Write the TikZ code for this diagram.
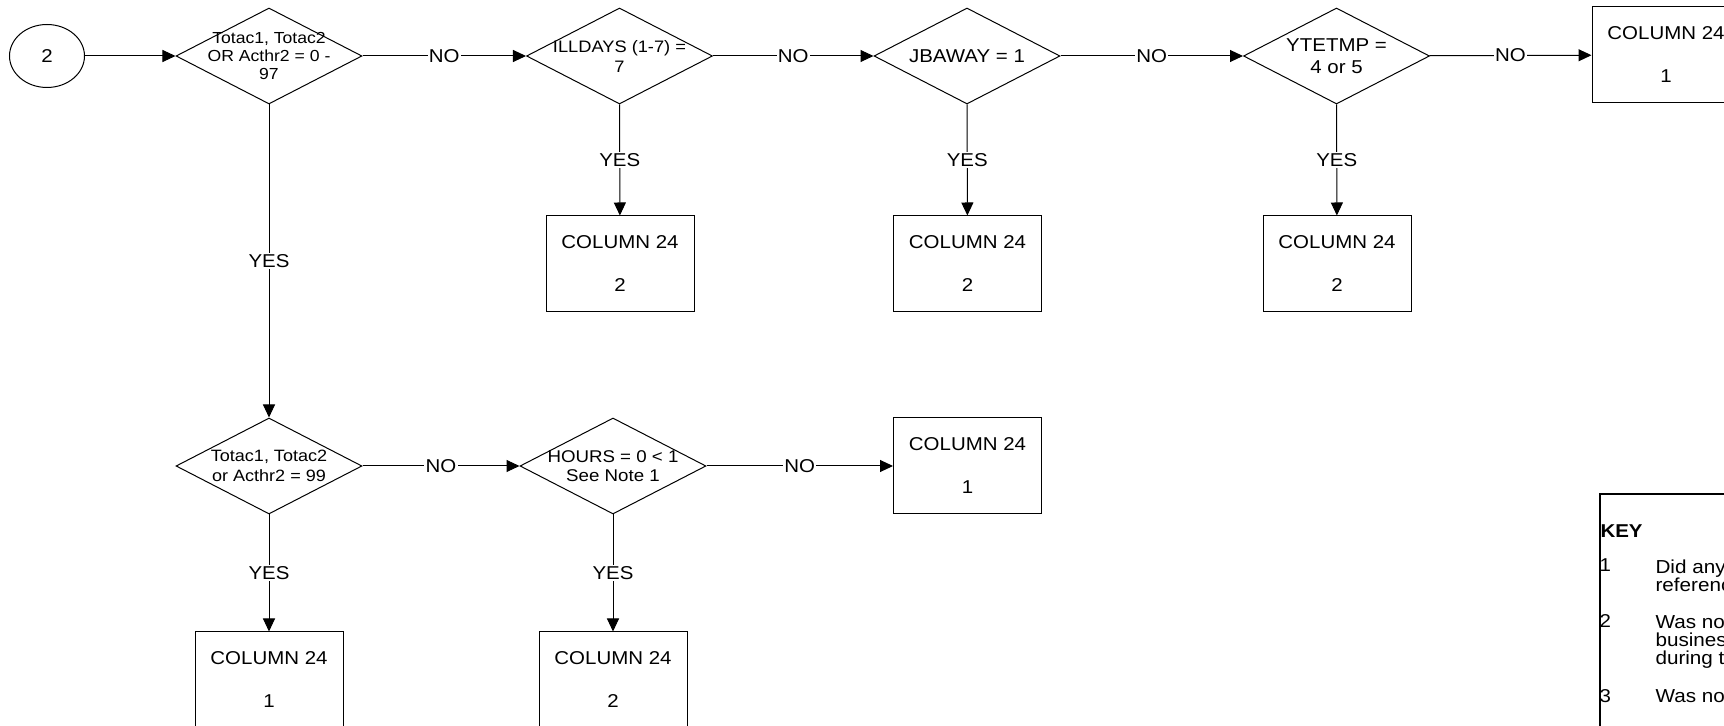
\documentclass[tikz,border=0pt]{standalone}
\usepackage{fontspec}
\setmainfont{Liberation Sans}[FakeStretch=1.1]
\usetikzlibrary{shapes.geometric,arrows.meta}

\begin{document}
\begin{tikzpicture}[x=0.5pt,y=-0.5pt,line width=0.5pt,
    every node/.style={font=\fontsize{9.3}{11}\selectfont},
    start/.style={ellipse, draw, minimum width=37.5pt, minimum height=31.5pt, inner sep=0pt},
    decision/.style={diamond, draw, aspect=1.94, minimum width=93pt, minimum height=48pt, inner sep=0pt},
    outcome/.style={rectangle, draw, minimum width=74pt, minimum height=48pt, inner sep=0pt,
        align=center, font=\fontsize{9.3}{10.75}\selectfont},
    flow/.style={-{Triangle[length=6.5pt,width=6pt]}},
    answer/.style={fill=white, inner sep=0.6pt},
    keytext/.style={anchor=north west, inner sep=0pt, align=left, font=\fontsize{9.4}{9}\selectfont}]
    \useasboundingbox (0,0) rectangle (1724,726);

    % top row
    \node[start] (s) at (47,56) {2};
    \node[decision, label={[align=center, font=\fontsize{8}{9}\selectfont]center:{Totac1, Totac2\\OR Acthr2 = 0 -\\97}}] (q1) at (269,56) {};
    \node[decision, label={[align=center, font=\fontsize{8.3}{10}\selectfont]center:{ILLDAYS (1-7) =\\7}}] (q2) at (619.5,56) {};
    \node[decision, label={[font=\fontsize{9.3}{11}\selectfont]center:{JBAWAY = 1}}] (q3) at (967,56) {};
    \node[decision, label={[align=center, font=\fontsize{9.3}{11.3}\selectfont]center:{YTETMP =\\4 or 5}}] (q4) at (1336.5,56) {};
    \node[outcome] (c1) at (1666,55) {COLUMN 24\\[10.75pt]1};
    \node[outcome] (c2) at (620,264) {COLUMN 24\\[10.75pt]2};
    \node[outcome] (c3) at (967.5,264) {COLUMN 24\\[10.75pt]2};
    \node[outcome] (c4) at (1337,264) {COLUMN 24\\[10.75pt]2};

    % bottom row
    \node[decision, label={[align=center, font=\fontsize{8.2}{10}\selectfont]center:{Totac1, Totac2\\or Acthr2 = 99}}] (q5) at (269,466) {};
    \node[decision, label={[align=center, font=\fontsize{8.5}{9.5}\selectfont]center:{HOURS = 0 < 1\\See Note 1}}] (q6) at (613,466) {};
    \node[outcome] (c7) at (967.5,466) {COLUMN 24\\[10.75pt]1};
    \node[outcome] (c5) at (269,680) {COLUMN 24\\[10.75pt]1};
    \node[outcome] (c6) at (613,680) {COLUMN 24\\[10.75pt]2};

    \draw[flow] (s) -- (q1);
    \draw[flow] (q1) -- node[answer] {NO} (q2);
    \draw[flow] (q2) -- node[answer] {NO} (q3);
    \draw[flow] (q3) -- node[answer] {NO} (q4);
    \draw[flow] (q4) -- node[answer] {NO} (c1);
    \draw[flow] (q2) -- node[answer] {YES} (c2);
    \draw[flow] (q3) -- node[answer] {YES} (c3);
    \draw[flow] (q4) -- node[answer] {YES} (c4);
    \draw[flow] (q1) -- node[answer] {YES} (q5);
    \draw[flow] (q5) -- node[answer] {NO} (q6);
    \draw[flow] (q6) -- node[answer] {NO} (c7);
    \draw[flow] (q5) -- node[answer] {YES} (c5);
    \draw[flow] (q6) -- node[answer] {YES} (c6);

    % key
    \draw[line width=1pt] (1730,494) -| (1600,732);
    \node[anchor=base west, inner sep=0pt, font=\bfseries\fontsize{9.3}{11}\selectfont] (key) at (1600,537.5) {KEY};
    \node[anchor=base west, inner sep=0pt] (k1) at (1599,572) {1};
    \node[keytext] (t1) at (1655,559) {Did any\\referenc};
    \node[anchor=base west, inner sep=0pt] (k2) at (1599,628) {2};
    \node[keytext] (t2) at (1655,615) {Was no\\busines\\during t};
    \node[anchor=base west, inner sep=0pt] (k3) at (1599,702) {3};
    \node[keytext] (t3) at (1655,689) {Was no};
\end{tikzpicture}
\end{document}
